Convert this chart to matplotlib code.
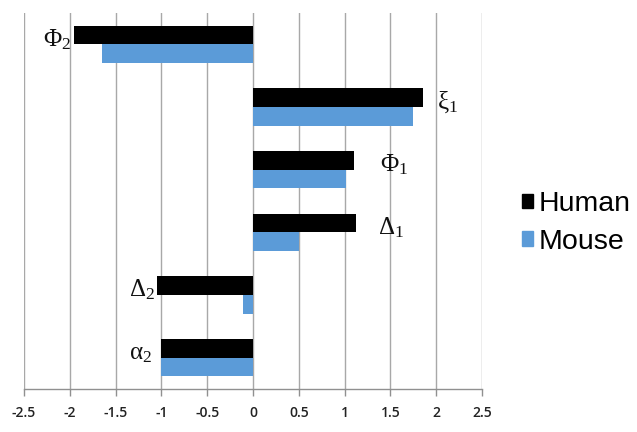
import matplotlib
matplotlib.use("Agg")
import matplotlib.pyplot as plt
import numpy as np
from matplotlib.patches import Patch

categories = [r"$\mathrm{Φ}_2$", r"$\mathrm{ξ}_1$", r"$\mathrm{Φ}_1$", r"$\mathrm{Δ}_1$", r"$\mathrm{Δ}_2$", r"$\mathrm{α}_2$"]
human = [-1.95, 1.86, 1.10, 1.12, -1.05, -1.00]
mouse = [-1.65, 1.75, 1.01, 0.50, -0.11, -1.00]
xticks = [-2.5, -2, -1.5, -1, -0.5, 0, 0.5, 1, 1.5, 2, 2.5]
xticklabels = ["-2.5", "-2", "-1.5", "-1", "-0.5", "0", "0.5", "1", "1.5", "2", "2.5"]
label_x = [-1.98, 2.01, 1.39, 1.36, -1.07, -1.10]
label_ha = ["right", "left", "left", "left", "right", "right"]

plt.rcParams["mathtext.fontset"] = "custom"
plt.rcParams["mathtext.rm"] = "Liberation Serif"
plt.rcParams["mathtext.it"] = "Liberation Serif:italic"
plt.rcParams["mathtext.bf"] = "Liberation Serif:bold"

fig = plt.figure(figsize=(6.37, 4.32), dpi=100)
ax = fig.add_axes([24/637, 1-389/432, (482-24)/637, (389-13)/432])

y = np.arange(len(categories))
h = 0.3
ax.barh(y - h/2, human, height=h, color="#000000", label="Human", zorder=3)
ax.barh(y + h/2, mouse, height=h, color="#5b9bd8", label="Mouse", zorder=3)

for i, lab in enumerate(categories):
    ax.text(label_x[i], y[i] - 0.08, lab, ha=label_ha[i], va="center",
            fontsize=18, color="#111111", zorder=4)

ax.set_xlim(-2.5, 2.5)
ax.set_ylim(len(categories) - 0.5, -0.5)
ax.set_xticks(xticks)
ax.set_xticklabels(xticklabels, fontsize=10, fontweight="semibold", family="Open Sans", color="#222222")
ax.set_yticks([])
ax.grid(axis="x", color="#a8a8a8", linewidth=1.0, zorder=0)
for s in ["top", "right", "left"]:
    ax.spines[s].set_visible(False)
ax.spines["bottom"].set_color("#909090")
ax.spines["bottom"].set_linewidth(1.0)
ax.tick_params(axis="x", length=5, color="#909090", width=1.0, pad=7)

handles = [Patch(color="#000000"), Patch(color="#5b9bd8")]
fig.legend(handles, ["Human", "Mouse"], loc="center left", bbox_to_anchor=(496/637, 1-223/432),
           frameon=False, prop={"family": "Liberation Sans", "size": 20.5},
           handlelength=0.4, handleheight=0.4, handletextpad=0.2, labelspacing=0.4)

fig.savefig("out.png", dpi=100)
